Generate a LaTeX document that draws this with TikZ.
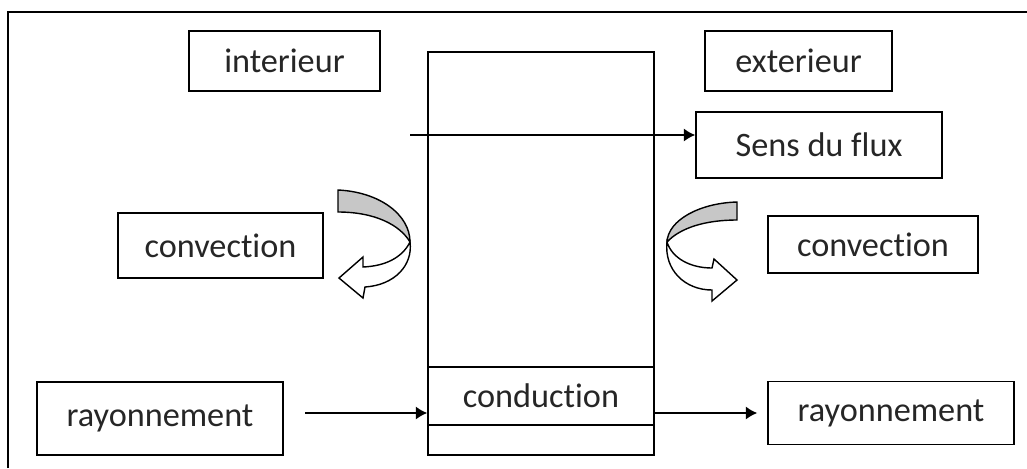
\documentclass[tikz,border=0pt]{standalone}
\usepackage{fontspec}
\setmainfont{Carlito}[Ligatures={NoCommon}]
\usepackage{tikz}
\usetikzlibrary{arrows.meta}
\tikzstyle{boite}=[draw, line width=0.9pt, inner sep=0pt, text=black!85, font=\fontsize{19.5}{22}\selectfont]
\tikzstyle{fleche}=[-{Latex[length=6.5pt,width=7.5pt]}, line width=0.9pt]
\tikzstyle{dos}=[draw, line width=0.8pt, fill=black!22]
\tikzstyle{face}=[draw, line width=0.8pt, fill=white]

\begin{document}
\begin{tikzpicture}[x=0.02cm, y=-0.02cm]

\useasboundingbox (0,0) rectangle (1027,468);

%%% Frame

\draw [line width=0.8pt] (8,468) -- (8,12) -- (1027,12);

%%% Wall

\node [boite, minimum width=4.52cm, minimum height=8.06cm] (mur) at (541,253.5) {};

\node [boite, minimum width=4.52cm, minimum height=1.16cm] (cond) at (541,396) {conduction};

%%% Labels

\node [boite, minimum width=3.82cm, minimum height=1.2cm] (int) at (284.5,61) {interieur};

\node [boite, minimum width=3.74cm, minimum height=1.2cm] (ext) at (798.5,61) {exterieur};

\node [boite, minimum width=4.92cm, minimum height=1.32cm] (sens) at (819,145) {Sens du flux};

\node [boite, minimum width=4.1cm, minimum height=1.3cm] (convG) at (220.5,245.5) {convection};

\node [boite, minimum width=4.2cm, minimum height=1.14cm] (convD) at (873,244.5) {convection};

\node [boite, minimum width=4.92cm, minimum height=1.46cm] (rayG) at (160,418.5) {rayonnement};

\node [boite, minimum width=4.92cm, minimum height=1.26cm] (rayD) at (891,413) {rayonnement};

%%% Flux

\coordinate (debut) at (410,135);
\draw [fleche] (debut) -- (debut -| sens.west);

\coordinate (rayIn) at (305,413);
\draw [fleche] (rayIn) -- (rayIn -| cond.west);

\draw [fleche, shorten >=0.2cm] (cond.east |- rayD.west) -- (rayD.west);

% Left curved arrow

\draw [dos] (338,190) .. controls (380,192) and (410,215) .. (410,242)
  .. controls (400,225) and (375,212) .. (338,212) -- cycle;
\draw [face] (410,242) .. controls (402,258) and (385,266) .. (363,267)
  -- (363,257) -- (339,278) -- (363,298) -- (365,287)
  .. controls (395,285) and (413,265) .. (410,242) -- cycle;

% Right curved arrow

\draw [dos] (737,202) .. controls (700,203) and (668,220) .. (667,242)
  .. controls (680,228) and (705,220) .. (737,220) -- cycle;
\draw [face] (667,242) .. controls (672,258) and (690,268) .. (712,268)
  -- (714,259) -- (737,280) -- (712,301) -- (712,290)
  .. controls (685,290) and (664,270) .. (667,242) -- cycle;

\end{tikzpicture}
\end{document}
